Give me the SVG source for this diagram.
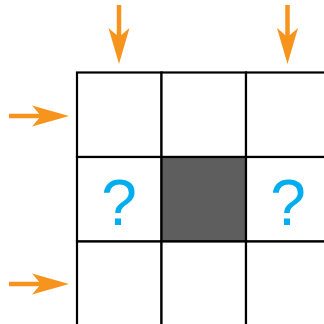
<svg xmlns="http://www.w3.org/2000/svg" width="324" height="324" viewBox="0 0 324 324">
<defs>
<style>
.cell{fill:#ffffff;stroke:#000000;stroke-width:2.2}
.dark{fill:#5e5e5e;stroke:#000000;stroke-width:2.2}
.q{font-family:"Liberation Sans",Arial,sans-serif;font-size:64px;fill:#00aeef;text-anchor:middle}
.shaft{stroke:#f7941d;stroke-width:4.5;fill:none}
.head{fill:#f7941d}
</style>
<path id="ad" class="head" d="M0,0 L-10.5,-36 L0,-27 L10.5,-36 Z"/>
<path id="ar" class="head" d="M0,0 L-37,-10.5 L-28,0 L-37,10.5 Z"/>
</defs>
<rect width="324" height="324" fill="#ffffff"/>
<g id="grid">
<g id="c00"><rect class="cell" x="77" y="72.5" width="84.5" height="84.5"/></g>
<g id="c01"><rect class="cell" x="161.5" y="72.5" width="84.5" height="84.5"/></g>
<g id="c02"><rect class="cell" x="246" y="72.5" width="84.5" height="84.5"/></g>
<g id="c10"><rect class="cell" x="77" y="157" width="84.5" height="84.5"/><text class="q" x="119" y="225">?</text></g>
<g id="c11"><rect class="dark" x="161.5" y="157" width="84.5" height="84.5"/></g>
<g id="c12"><rect class="cell" x="246" y="157" width="84.5" height="84.5"/><text class="q" x="288" y="225">?</text></g>
<g id="c20"><rect class="cell" x="77" y="241.5" width="84.5" height="84.5"/></g>
<g id="c21"><rect class="cell" x="161.5" y="241.5" width="84.5" height="84.5"/></g>
<g id="c22"><rect class="cell" x="246" y="241.5" width="84.5" height="84.5"/></g>
</g>
<g id="connectors">
<line class="shaft" x1="119" y1="5" x2="119" y2="40"/>
<use href="#ad" x="119" y="64"/>
<line class="shaft" x1="287.5" y1="5" x2="287.5" y2="40"/>
<use href="#ad" x="287.5" y="64"/>
<line class="shaft" x1="9" y1="116" x2="44" y2="116"/>
<use href="#ar" x="69" y="116"/>
<line class="shaft" x1="9" y1="284" x2="44" y2="284"/>
<use href="#ar" x="69" y="284"/>
</g>
</svg>
